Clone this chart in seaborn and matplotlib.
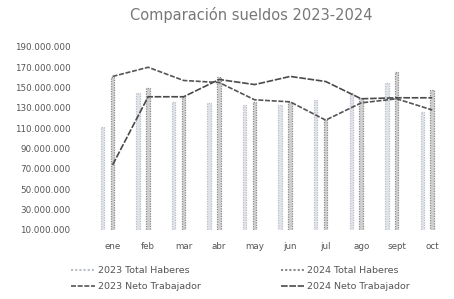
import numpy as np
import pandas as pd
import matplotlib
matplotlib.use("Agg")
import matplotlib.pyplot as plt
from matplotlib.lines import Line2D
from matplotlib.ticker import FuncFormatter
import seaborn as sns

# Data (millones)
meses = ["ene", "feb", "mar", "abr", "may", "jun", "jul", "ago", "sept", "oct"]
haberes_2023 = [111, 145, 136, 135, 133, 133, 138, 145, 155, 126]
haberes_2024 = [160, 150, 141, 160, 136, 136, 118, 140, 165, 148]
neto_2023 = [161, 170, 157, 155, 138, 136, 118, 135, 139, 128]
neto_2024 = [74, 141, 141, 158, 153, 161, 156, 139, 140, 140]

sns.set_theme(style="white")
plt.rcParams["font.family"] = ["DejaVu Sans"]

df = pd.DataFrame({
    "mes": meses * 2,
    "valor": [v * 1e6 for v in haberes_2023 + haberes_2024],
    "serie": ["2023 Total Haberes"] * 10 + ["2024 Total Haberes"] * 10,
})

fig = plt.figure(figsize=(4.54, 2.99), dpi=100)
ax = fig.add_axes([0.198, 0.231, 0.79, 0.612])

light = "#dfe3ea"
light_edge = "#b9bdc6"
dark = "#d0d0d0"
dark_edge = "#8a8a8a"

sns.barplot(data=df, x="mes", y="valor", hue="serie", order=meses,
            hue_order=["2023 Total Haberes", "2024 Total Haberes"],
            palette=[light, dark], width=0.56, gap=0.65, legend=False, ax=ax)

for i, p in enumerate(ax.patches):
    if i < 10:
        p.set_edgecolor(light_edge)
    else:
        p.set_edgecolor(dark_edge)
    p.set_linestyle((0, (1, 1)))
    p.set_linewidth(0.9)

x_line = np.arange(len(meses)) + 0.14
sns.lineplot(x=x_line, y=np.array(neto_2023) * 1e6, color="#555555",
             linewidth=1.2, linestyle=(0, (3, 1)), ax=ax)
sns.lineplot(x=x_line, y=np.array(neto_2024) * 1e6, color="#4a4a4a",
             linewidth=1.2, linestyle=(0, (4, 1)), ax=ax)

ax.set_xlim(-0.5, 9.6)
ax.set_ylim(10e6, 190e6)
ax.set_xticks(x_line, meses)
ax.set_yticks(np.arange(10e6, 190e6 + 1, 20e6))
ax.yaxis.set_major_formatter(FuncFormatter(lambda v, _: f"{v:,.0f}".replace(",", ".")))
ax.set_xlabel("")
ax.set_ylabel("")
ax.tick_params(axis="both", labelsize=6.3, colors="#555555", length=0)
ax.tick_params(axis="x", pad=9)
ax.tick_params(axis="y", pad=14)
for s in ax.spines.values():
    s.set_visible(False)

fig.suptitle("Comparación sueldos 2023-2024", x=0.553, y=0.975,
             fontsize=10.5, color="#777777")

handles = [
    Line2D([0], [0], color=light_edge, linestyle=(0, (1, 1)), linewidth=1.5),
    Line2D([0], [0], color="#555555", linestyle=(0, (3, 1)), linewidth=1.2),
    Line2D([0], [0], color=dark_edge, linestyle=(0, (1, 1)), linewidth=1.5),
    Line2D([0], [0], color="#4a4a4a", linestyle=(0, (4, 1)), linewidth=1.2),
]
labels = ["2023 Total Haberes", "2023 Neto Trabajador",
          "2024 Total Haberes", "2024 Neto Trabajador"]
fig.legend(handles, labels, loc="center", bbox_to_anchor=(0.53, 0.068),
           ncol=2, frameon=False, fontsize=6.8, labelcolor="#555555",
           handlelength=2.5, handletextpad=0.3, columnspacing=8.5,
           labelspacing=0.75)

fig.savefig("out.png", dpi=100)
